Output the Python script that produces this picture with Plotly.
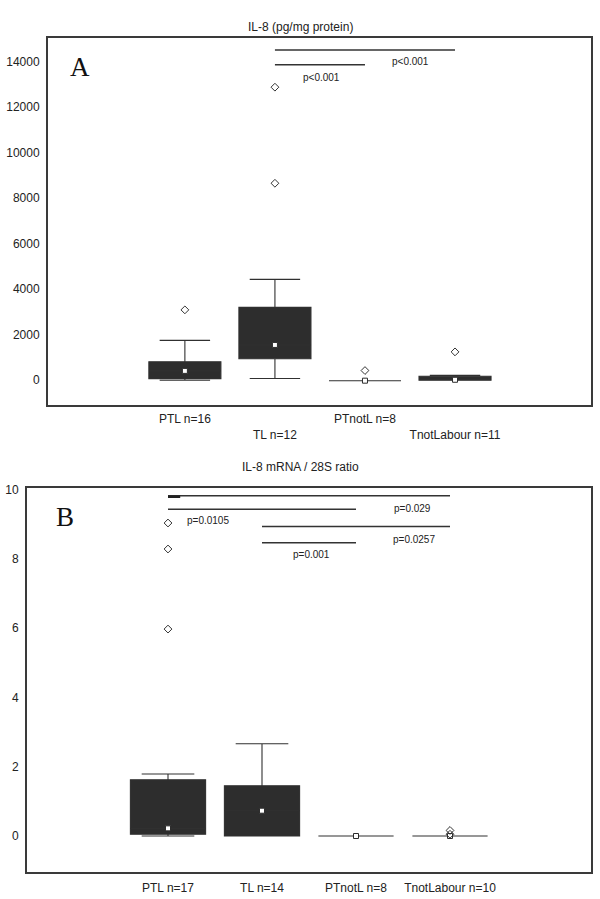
import plotly.graph_objects as go

# ---------------- data ----------------
pos = [0, 1, 2, 3]

# Panel A: IL-8 (pg/mg protein)
a_labels = ["PTL n=16", "TL n=12", "PTnotL n=8", "TnotLabour n=11"]
a_yticks = [0, 2000, 4000, 6000, 8000, 10000, 12000, 14000]
a_yticklabels = ["0", "2000", "4000", "6000", "8000", "10000", "12000", "14000"]
a_lower = [0, 75, 0, 0]
a_q1 = [70, 940, 0, 0]
a_median = [410, 1550, -20, 20]
a_q3 = [810, 3200, 130, 175]
a_upper = [1750, 4430, 235, 215]
a_out_x = [0, 1, 1, 2, 3]
a_out_y = [3090, 8650, 12870, 425, 1245]
# comparisons: (from, to, level)
a_brackets = [(1, 3, 14500), (1, 2, 13850)]
a_ptext = ["p<0.001", "p<0.001"]
a_ptext_x = [2.51, 1.52]
a_ptext_y = [13980, 13280]

# Panel B: IL-8 mRNA / 28S ratio
b_labels = ["PTL n=17", "TL n=14", "PTnotL n=8", "TnotLabour n=10"]
b_yticks = [0, 2, 4, 6, 8, 10]
b_yticklabels = ["0", "2", "4", "6", "8", "10"]
b_lower = [0, 0, 0, 0]
b_q1 = [0.05, 0, 0, 0]
b_median = [0.22, 0.73, 0, 0]
b_q3 = [1.62, 1.45, 0, 0]
b_upper = [1.79, 2.66, 0, 0]
b_out_x = [0, 0, 0, 3, 3]
b_out_y = [9.03, 8.28, 5.97, 0.16, 0.05]
b_brackets = [(0, 3, 9.82), (0, 2, 9.43), (1, 3, 8.93), (1, 2, 8.46)]
b_ptext = ["p=0.029", "p=0.0105", "p=0.0257", "p=0.001"]
b_ptext_x = [2.60, 0.43, 2.62, 1.53]
b_ptext_y = [9.45, 9.10, 8.54, 8.11]

# ---------------- style ----------------
FONT = "Liberation Sans, Arial, sans-serif"
DARK = "#2d2d2d"
LINE = "#303030"
FRAME = "#3a3a3a"

fig = go.Figure()


def add_panel(xa, ya, lower, q1, med, q3, upper, ox, oy):
    fig.add_trace(go.Box(
        x=pos, q1=q1, median=med, q3=q3, lowerfence=lower, upperfence=upper,
        width=0.8, whiskerwidth=0.7, fillcolor=DARK,
        line=dict(color=LINE, width=1.1), boxpoints=False,
        xaxis=xa, yaxis=ya, showlegend=False, hoverinfo="skip"))
    fig.add_trace(go.Scatter(
        x=pos, y=med, mode="markers", xaxis=xa, yaxis=ya,
        marker=dict(symbol="square", size=5, color="white",
                    line=dict(color=DARK, width=1)),
        showlegend=False, hoverinfo="skip"))
    fig.add_trace(go.Scatter(
        x=ox, y=oy, mode="markers", xaxis=xa, yaxis=ya,
        marker=dict(symbol="diamond-open", size=6, color="#333333",
                    line=dict(width=1)),
        showlegend=False, hoverinfo="skip"))


add_panel("x", "y", a_lower, a_q1, a_median, a_q3, a_upper, a_out_x, a_out_y)
add_panel("x2", "y2", b_lower, b_q1, b_median, b_q3, b_upper, b_out_x, b_out_y)

shapes = []
for (f, t, lvl) in a_brackets:
    shapes.append(dict(type="line", xref="x", yref="y", x0=f, x1=t, y0=lvl, y1=lvl,
                       line=dict(color="#333333", width=1.5)))
for (f, t, lvl) in b_brackets:
    shapes.append(dict(type="line", xref="x2", yref="y2", x0=f, x1=t, y0=lvl, y1=lvl,
                       line=dict(color="#333333", width=1.5)))
# short thicker stub at the start of the top bracket in panel B
shapes.append(dict(type="line", xref="x2", yref="y2", x0=b_brackets[0][0], x1=b_brackets[0][0] + 0.13,
                   y0=b_brackets[0][2] - 0.03, y1=b_brackets[0][2] - 0.03,
                   line=dict(color="#222222", width=2.5)))

annotations = []
for txt, px, py in zip(a_ptext, a_ptext_x, a_ptext_y):
    annotations.append(dict(text=txt, x=px, y=py, xref="x", yref="y", showarrow=False,
                            font=dict(family=FONT, size=10, color="#222222")))
for txt, px, py in zip(b_ptext, b_ptext_x, b_ptext_y):
    annotations.append(dict(text=txt, x=px, y=py, xref="x2", yref="y2", showarrow=False,
                            font=dict(family=FONT, size=10, color="#222222")))
annotations.append(dict(text="A", x=-1.30, y=13740, xref="x", yref="y", xanchor="left",
                        showarrow=False, font=dict(family="Liberation Serif, Times New Roman, serif",
                                                   size=27, color="#111111")))
annotations.append(dict(text="B", x=-1.21, y=9.21, xref="x2", yref="y2", xanchor="left",
                        showarrow=False, font=dict(family="Liberation Serif, Times New Roman, serif",
                                                   size=27, color="#111111")))
annotations.append(dict(text="IL-8 (pg/mg protein)", x=0.5, y=1 - 17.5 / 899, xref="paper", yref="paper",
                        showarrow=False, font=dict(family=FONT, size=12, color="#222222")))
annotations.append(dict(text="IL-8 mRNA / 28S ratio", x=0.5, y=1 - 467 / 899, xref="paper", yref="paper",
                        showarrow=False, font=dict(family=FONT, size=12, color="#222222")))

axis_common = dict(showline=True, mirror=True, linecolor=FRAME, linewidth=2,
                   showgrid=False, zeroline=False, ticks="", automargin=False,
                   tickfont=dict(family=FONT, size=12, color="#222222"))

a_ticktext = [("<br>" if i % 2 else "") + s for i, s in enumerate(a_labels)]

fig.update_layout(
    width=600, height=899,
    margin=dict(l=0, r=0, t=0, b=0, autoexpand=False),
    paper_bgcolor="white", plot_bgcolor="white",
    showlegend=False,
    xaxis=dict(domain=[48 / 600, 591 / 600], range=[-1.52, 4.51], anchor="y",
               tickmode="array", tickvals=pos, ticktext=a_ticktext, ticklabelstandoff=2, **axis_common),
    yaxis=dict(domain=[1 - 404.5 / 899, 1 - 38 / 899], range=[-1066, 15030], anchor="x",
               tickmode="array", tickvals=a_yticks, ticktext=a_yticklabels, ticklabelstandoff=4,
               **axis_common),
    xaxis2=dict(domain=[27 / 600, 591 / 600], range=[-1.5, 4.5], anchor="y2",
                tickmode="array", tickvals=pos, ticktext=b_labels, ticklabelstandoff=4, **axis_common),
    yaxis2=dict(domain=[1 - 871.7 / 899, 1 - 488 / 899], range=[-1.03, 10.04], anchor="x2",
                tickmode="array", tickvals=b_yticks, ticktext=b_yticklabels, ticklabelstandoff=4,
                **axis_common),
    shapes=shapes,
    annotations=annotations,
)

fig.write_html("out.html", config={"displayModeBar": False},
               post_script="document.body.style.margin='0';document.body.style.overflow='hidden';")
